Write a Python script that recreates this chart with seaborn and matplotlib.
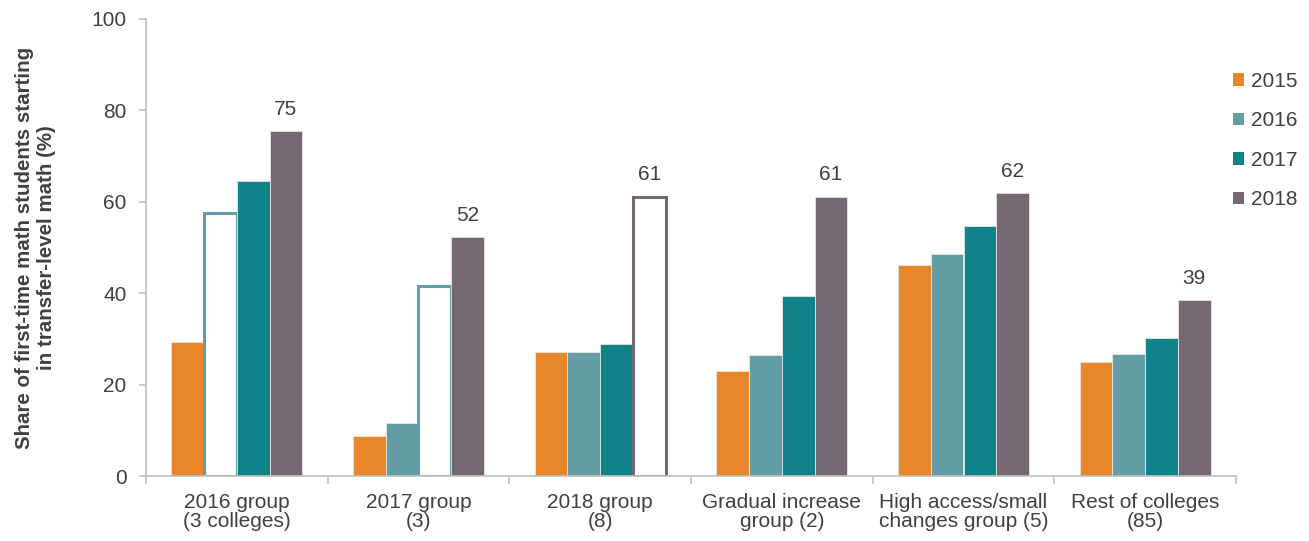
import matplotlib
matplotlib.use("Agg")
import matplotlib.pyplot as plt
import seaborn as sns
import pandas as pd
import numpy as np

groups = ["2016 group\n(3 colleges)", "2017 group\n(3)", "2018 group\n(8)",
          "Gradual increase\ngroup (2)", "High access/small\nchanges group (5)",
          "Rest of colleges\n(85)"]
years = ["2015", "2016", "2017", "2018"]
v2015 = [29.4, 8.8, 27.2, 23.0, 46.2, 24.9]
v2016 = [57.6, 11.7, 27.2, 26.5, 48.6, 26.8]
v2017 = [64.6, 41.6, 28.9, 39.3, 54.8, 30.3]
v2018 = [75.4, 52.2, 61.1, 61.1, 61.9, 38.5]
labels2018 = [75, 52, 61, 61, 62, 39]
colors = ["#E8862A", "#639EA5", "#10828A", "#766870"]
# hollow (outlined) bars: (year index, group index, outline colour)
hollow = [(1, 0, "#639EA5"), (2, 1, "#639EA5"), (3, 2, "#766870")]

rows = []
for y, vals in zip(years, [v2015, v2016, v2017, v2018]):
    for g, v in zip(groups, vals):
        rows.append({"group": g, "year": y, "value": v})
df = pd.DataFrame(rows)

sns.set_theme(style="white")
plt.rcParams["font.family"] = ["Liberation Sans", "DejaVu Sans"]
FS = 15
TXT = "#404040"

fig = plt.figure(figsize=(13.09, 5.41), dpi=100)
ax = fig.add_axes([146/1309, 1-476/541, (1236-146)/1309, (476-19)/541])

sns.barplot(data=df, x="group", y="value", hue="year", order=groups,
            hue_order=years, palette=colors, saturation=1, width=0.72, gap=0,
            edgecolor="#E6E6E6", linewidth=0.6, ax=ax, legend=True)

for yi, gi, ec in hollow:
    p = ax.containers[yi][gi]
    p.set_facecolor("white")
    p.set_edgecolor(ec)
    p.set_linewidth(2.2)

ax.bar_label(ax.containers[3], labels=[str(l) for l in labels2018],
             padding=9, fontsize=FS, color=TXT)

ax.set_ylim(0, 100)
ax.set_xlim(-0.5, len(groups) - 0.5)
ax.set_yticks([0, 20, 40, 60, 80, 100])
ax.tick_params(axis="y", labelsize=FS, labelcolor=TXT, length=5,
               color="#BFBFBF", width=1.2, pad=9, left=True)
ax.set_xticks(range(len(groups)))
ax.set_xticklabels(groups)
ax.tick_params(axis="x", labelsize=FS, labelcolor=TXT, length=0, pad=12)
ax.set_xticks(np.arange(-0.5, len(groups)), minor=True)
ax.tick_params(axis="x", which="minor", length=6, color="#BFBFBF", width=1.2,
               bottom=True)
for lab in ax.get_xticklabels():
    lab.set_linespacing(1.05)

ax.set_xlabel("")
ax.set_ylabel("Share of first-time math students starting\nin transfer-level math (%)",
              fontsize=14.8, fontweight="bold", color=TXT, linespacing=1.2)
ax.yaxis.set_label_coords(-0.083, 0.5)

for s in ["top", "right"]:
    ax.spines[s].set_visible(False)
for s in ["left", "bottom"]:
    ax.spines[s].set_color("#BFBFBF")
    ax.spines[s].set_linewidth(1.2)

ax.get_legend().remove()
handles = [plt.Rectangle((0, 0), 1, 1, facecolor=c, edgecolor="none") for c in colors]
fig.legend(handles, years, loc="upper left",
           bbox_to_anchor=(1233/1309, 1-72/541), frameon=False,
           fontsize=FS, labelcolor=TXT, handlelength=0.55,
           handleheight=0.55, handletextpad=0.3, labelspacing=0.98,
           borderpad=0, borderaxespad=0)

fig.savefig("out.png", dpi=100, facecolor="white")
